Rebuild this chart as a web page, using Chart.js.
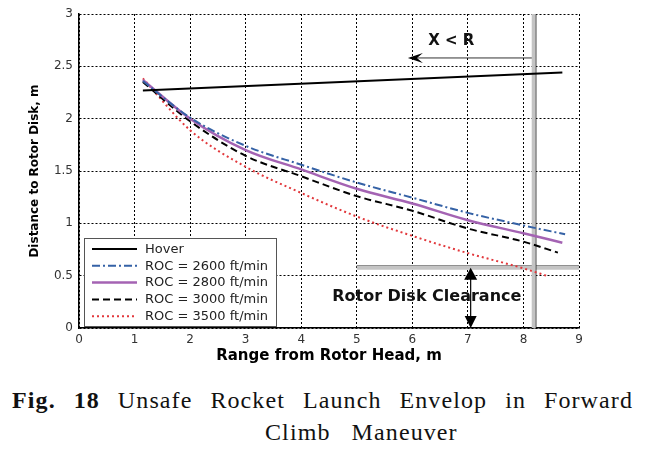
<!DOCTYPE html>
<html>
<head>
<meta charset="utf-8">
<script src="https://cdn.jsdelivr.net/npm/chart.js@4.4.1/dist/chart.umd.min.js"></script>
<style>
  html, body { margin: 0; padding: 0; background: #fff; }
  #wrap { position: relative; width: 645px; height: 457px; overflow: hidden; }
  #box { position: absolute; left: 0; top: 0; width: 645px; height: 370px; }
  .cap { position: absolute; font-family: "Liberation Serif", "DejaVu Serif", serif; font-size: 24px; line-height: 28px; letter-spacing: 1.1px; color: #111; white-space: nowrap; }
  #cap1 { left: 12px; width: 621px; top: 386px; text-align: justify; text-align-last: justify; white-space: normal; }
  #cap2 { left: 265px; top: 418px; word-spacing: 14px; }
</style>
</head>
<body>
<div id="wrap">
  <div id="box"><canvas id="envChart"></canvas></div>
  <div class="cap" id="cap1"><b>Fig. 18</b> Unsafe Rocket Launch Envelop in Forward</div>
  <div class="cap" id="cap2">Climb Maneuver</div>
</div>
<script>
// series: range from rotor head (m) vs distance to rotor disk (m)
const hoverX = [1.15, 8.7];
const hoverY = [2.27, 2.44];

const roc2600X = [1.15, 2, 3, 4, 5, 6, 7, 8, 8.75];
const roc2600Y = [2.36, 2.01, 1.74, 1.56, 1.39, 1.245, 1.10, 0.98, 0.895];

const roc2800X = [1.15, 2, 3, 4, 5, 6, 7, 8, 8.7];
const roc2800Y = [2.37, 2.00, 1.70, 1.515, 1.33, 1.19, 1.03, 0.905, 0.815];

const roc3000X = [1.15, 2, 3, 4, 5, 6, 7, 8, 8.62];
const roc3000Y = [2.35, 1.975, 1.645, 1.45, 1.26, 1.12, 0.95, 0.825, 0.72];

const roc3500X = [1.15, 2, 3, 4, 5, 6, 7, 8, 8.44];
const roc3500Y = [2.385, 1.89, 1.54, 1.29, 1.065, 0.88, 0.715, 0.57, 0.495];

// reference marks
const rotorRadius = 8.22;      // vertical limit X = R
const clearanceY = 0.585;      // rotor disk clearance height
const clearanceStartX = 5;
const xrArrowY = 2.58;
const xrArrowTipX = 5.92;
const clearanceArrowX = 7.05;

const xTicks = [0, 1, 2, 3, 4, 5, 6, 7, 8, 9];
const yTicks = [0, 0.5, 1, 1.5, 2, 2.5, 3];

const SANS = '"DejaVu Sans", Arial, sans-serif';

const toPts = (xs, ys) => xs.map((x, i) => ({ x: x, y: ys[i] }));

const curve = {
    showLine: true,
    pointRadius: 0,
    fill: false,
    cubicInterpolationMode: 'monotone'
};

const datasets = [
    Object.assign({}, curve, { label: 'Hover', data: toPts(hoverX, hoverY), borderColor: '#000', borderWidth: 2 }),
    Object.assign({}, curve, { label: 'ROC = 2600 ft/min', data: toPts(roc2600X, roc2600Y), borderColor: '#3562a6', borderWidth: 2, borderDash: [8, 3, 2, 3] }),
    Object.assign({}, curve, { label: 'ROC = 2800 ft/min', data: toPts(roc2800X, roc2800Y), borderColor: '#a463b3', borderWidth: 2.5 }),
    Object.assign({}, curve, { label: 'ROC = 3000 ft/min', data: toPts(roc3000X, roc3000Y), borderColor: '#000', borderWidth: 2, borderDash: [7, 4] }),
    Object.assign({}, curve, { label: 'ROC = 3500 ft/min', data: toPts(roc3500X, roc3500Y), borderColor: '#e2383c', borderWidth: 2, borderDash: [2, 3] }),
    // reference lines (no legend entry)
    Object.assign({}, curve, { data: [{ x: rotorRadius - 0.035, y: 0 }, { x: rotorRadius - 0.035, y: 3 }], borderColor: '#c4c4c4', borderWidth: 4 }),
    Object.assign({}, curve, { data: [{ x: rotorRadius, y: 0 }, { x: rotorRadius, y: 3 }], borderColor: '#222', borderWidth: 1.5 }),
    Object.assign({}, curve, { data: [{ x: clearanceStartX, y: clearanceY - 0.01 }, { x: 9, y: clearanceY - 0.01 }], borderColor: '#c4c4c4', borderWidth: 4 }),
    Object.assign({}, curve, { data: [{ x: clearanceStartX, y: clearanceY + 0.008 }, { x: 9, y: clearanceY + 0.008 }], borderColor: '#555', borderWidth: 1.2 }),
    Object.assign({}, curve, { data: [{ x: rotorRadius, y: xrArrowY }, { x: xrArrowTipX + 0.1, y: xrArrowY }], borderColor: '#333', borderWidth: 1 }),
    Object.assign({}, curve, { data: [{ x: clearanceArrowX, y: clearanceY - 0.05 }, { x: clearanceArrowX, y: 0.05 }], borderColor: '#000', borderWidth: 1.2 })
];

const annotations = {
    id: 'annotations',
    afterDatasetsDraw(chart) {
        const { ctx, scales: { x, y } } = chart;
        ctx.save();
        ctx.fillStyle = '#000';

        // arrowhead pointing left (X < R)
        const ax = x.getPixelForValue(xrArrowTipX), ay = y.getPixelForValue(xrArrowY);
        ctx.beginPath();
        ctx.moveTo(ax, ay);
        ctx.lineTo(ax + 15, ay - 5);
        ctx.lineTo(ax + 9, ay);
        ctx.lineTo(ax + 15, ay + 5);
        ctx.closePath();
        ctx.fill();

        // double arrow for clearance
        const cx = x.getPixelForValue(clearanceArrowX);
        const top = y.getPixelForValue(clearanceY), bot = y.getPixelForValue(0);
        ctx.beginPath();
        ctx.moveTo(cx, top + 1);
        ctx.lineTo(cx - 6.5, top + 13);
        ctx.lineTo(cx + 6.5, top + 13);
        ctx.closePath();
        ctx.fill();
        ctx.beginPath();
        ctx.moveTo(cx, bot);
        ctx.lineTo(cx - 6, bot - 12);
        ctx.lineTo(cx + 6, bot - 12);
        ctx.closePath();
        ctx.fill();

        ctx.textAlign = 'center';
        ctx.textBaseline = 'middle';
        ctx.fillStyle = '#111';
        ctx.font = 'bold 15px ' + SANS;
        ctx.fillText('X < R', x.getPixelForValue(6.7), y.getPixelForValue(2.74));
        ctx.font = 'bold 16px ' + SANS;
        ctx.fillText('Rotor Disk Clearance', x.getPixelForValue(6.26), y.getPixelForValue(0.3));

        // legend box in the lower left corner
        const items = chart.data.datasets.filter(d => d.label);
        const bx = 84, by = 238, bw = 192, bh = 88, row = 16.8;
        ctx.fillStyle = '#fff';
        ctx.fillRect(bx, by, bw, bh);
        ctx.strokeStyle = '#555';
        ctx.lineWidth = 1;
        ctx.setLineDash([]);
        ctx.strokeRect(bx + 0.5, by + 0.5, bw, bh);
        ctx.font = '13px ' + SANS;
        ctx.textAlign = 'left';
        items.forEach((d, i) => {
            const ry = by + 11 + i * row;
            ctx.save();
            ctx.strokeStyle = d.borderColor;
            ctx.lineWidth = d.borderWidth;
            ctx.setLineDash(d.borderDash || []);
            ctx.beginPath();
            ctx.moveTo(bx + 8, ry);
            ctx.lineTo(bx + 53, ry);
            ctx.stroke();
            ctx.restore();
            ctx.fillStyle = '#222';
            ctx.fillText(d.label, bx + 61, ry + 0.5);
        });
        ctx.restore();
    }
};

new Chart(document.getElementById('envChart'), {
    type: 'scatter',
    data: { datasets: datasets },
    options: {
        responsive: true,
        maintainAspectRatio: false,
        animation: false,
        events: [],
        layout: { padding: { top: 14, right: 66, left: 0, bottom: 0 } },
        plugins: { legend: { display: false }, tooltip: { enabled: false } },
        scales: {
            x: {
                type: 'linear',
                min: 0,
                max: 9,
                afterBuildTicks: s => { s.ticks = xTicks.map(v => ({ value: v })); },
                afterFit: s => { s.height = 42; },
                grid: { color: '#000', lineWidth: 1, drawTicks: false },
                border: { display: true, color: '#000', width: 1.5, dash: [2, 2] },
                ticks: { color: '#333', padding: 5, font: { size: 12, family: SANS }, callback: v => String(v) },
                title: {
                    display: true,
                    text: 'Range from Rotor Head, m',
                    color: '#000',
                    padding: { bottom: 5, top: 0 },
                    font: { size: 15, weight: 'bold', family: SANS }
                }
            },
            y: {
                type: 'linear',
                min: 0,
                max: 3,
                afterBuildTicks: s => { s.ticks = yTicks.map(v => ({ value: v })); },
                afterFit: s => { s.width = 79; },
                grid: { color: '#000', lineWidth: 1, drawTicks: false },
                border: { display: true, color: '#000', width: 1.5, dash: [2, 2] },
                ticks: { color: '#333', padding: 6, font: { size: 12, family: SANS }, callback: v => String(v) },
                title: {
                    display: true,
                    text: 'Distance to Rotor Disk, m',
                    color: '#000',
                    padding: { top: 28, bottom: 0 },
                    font: { size: 12, weight: 'bold', family: SANS }
                }
            }
        }
    },
    plugins: [annotations]
});
</script>
</body>
</html>
